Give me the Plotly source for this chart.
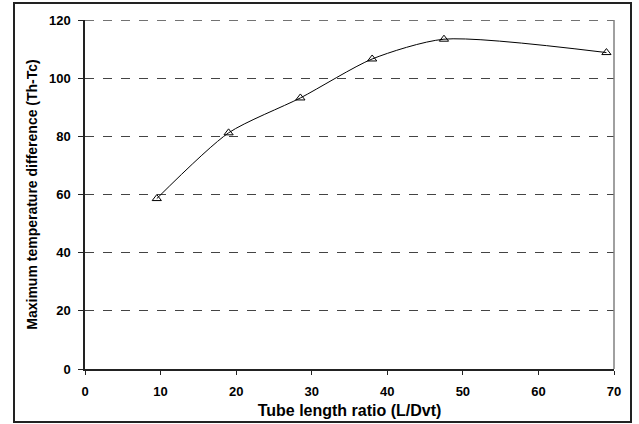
import plotly.graph_objects as go

# Tube length ratio (L/Dvt) and maximum temperature difference (Th-Tc)
length_ratio = [9.5, 19, 28.5, 38, 47.5, 69]
temp_diff = [58.6, 81.2, 93.2, 106.6, 113.4, 108.8]

x_ticks = [0, 10, 20, 30, 40, 50, 60, 70]
y_ticks = [0, 20, 40, 60, 80, 100, 120]

W, H = 639, 424
L, R, T, B = 85, 25, 20, 55

fig = go.Figure()
fig.add_trace(go.Scatter(
    x=length_ratio, y=temp_diff,
    mode="lines+markers",
    line=dict(color="black", width=1, shape="spline", smoothing=0.7),
    marker=dict(symbol="triangle-up-open", size=8, color="black",
                line=dict(width=1, color="black")),
    showlegend=False,
))

font = dict(family="Liberation Sans, Arial, sans-serif", color="black")

fig.update_layout(
    width=W, height=H,
    margin=dict(l=L, r=R, t=T, b=B),
    paper_bgcolor="white", plot_bgcolor="white",
    font=dict(**font, size=13),
    xaxis=dict(
        range=[0, 70], tickvals=x_ticks,
        ticktext=[f"<b>{v}</b>" for v in x_ticks],
        showgrid=False, zeroline=False, automargin=False,
        showline=True, linecolor="#222222", linewidth=1.5,
        ticks="outside", ticklen=4, tickcolor="#222222",
        ticklabelstandoff=6,
        title=dict(text="<b>Tube length ratio (L/Dvt)</b>",
                   font=dict(size=16), standoff=6),
    ),
    yaxis=dict(
        range=[0, 120], tickvals=y_ticks,
        ticktext=[f"<b>{v}</b>" for v in y_ticks],
        showgrid=True, gridcolor="#444444", gridwidth=1, griddash="dash",
        zeroline=False, automargin=False,
        showline=True, linecolor="#222222", linewidth=1.5,
        ticks="outside", ticklen=5, tickcolor="#222222",
        ticklabelstandoff=5,
        title=dict(text="<b>Maximum temperature difference (Th-Tc)</b>",
                   font=dict(size=14), standoff=8),
    ),
    shapes=[
        # dashed gridline along the top edge (y = 120)
        dict(type="line", xref="paper", yref="y", x0=0, x1=1, y0=120, y1=120,
             line=dict(color="#444444", width=1.5, dash="dash")),
        # right edge of the plot area
        dict(type="line", xref="paper", yref="paper", x0=1, x1=1, y0=0, y1=1,
             line=dict(color="#808080", width=1.5)),
        # outer frame
        dict(type="rect", xref="paper", yref="paper",
             x0=(14 - L) / (W - L - R), x1=(631 - L) / (W - L - R),
             y0=-(422 - (H - B)) / (H - T - B), y1=((H - B) - 3) / (H - T - B),
             line=dict(color="#222222", width=2), layer="below"),
    ],
)

fig.write_html("out.html")
